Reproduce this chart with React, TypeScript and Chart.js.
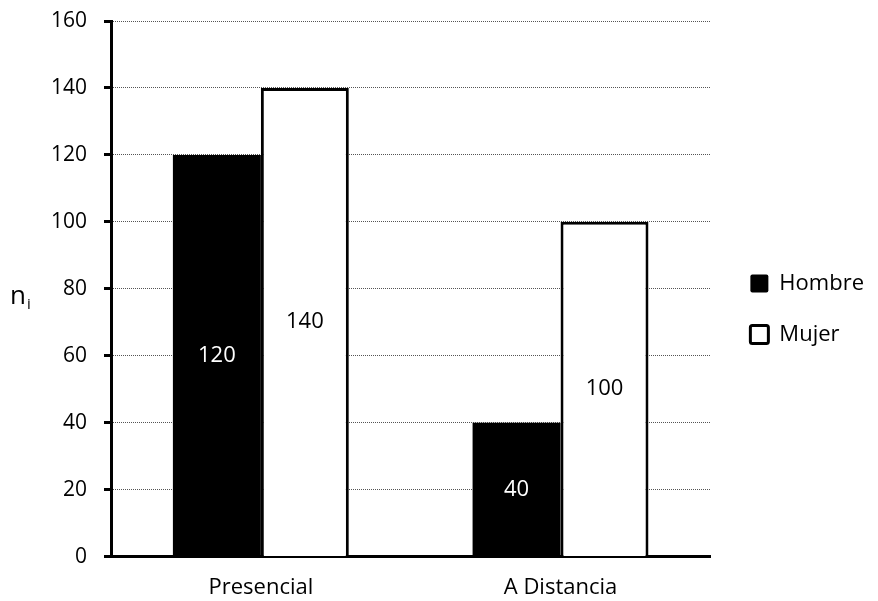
import React, { useEffect, useRef } from "react";
import { Chart, registerables } from "chart.js";

Chart.register(...registerables);

const categories = ["Presencial", "A Distancia"];
const hombre = [120, 40];
const mujer = [140, 100];
const seriesNames = ["Hombre", "Mujer"];
const yTicks = { min: 0, max: 160, step: 20 };

const FONT = "'Open Sans', sans-serif";

const valueLabels = {
  id: "valueLabels",
  afterDatasetsDraw(chart: any) {
    const ctx = chart.ctx;
    ctx.save();
    ctx.font = `22px ${FONT}`;
    ctx.textAlign = "center";
    ctx.textBaseline = "middle";
    chart.data.datasets.forEach((ds: any, di: number) => {
      const meta = chart.getDatasetMeta(di);
      meta.data.forEach((el: any, i: number) => {
        const v = ds.data[i];
        ctx.fillStyle = di === 0 ? "#ffffff" : "#000000";
        ctx.fillText(String(v), el.x, (el.y + el.base) / 2);
      });
    });
    ctx.restore();
  },
};

const yTitle = {
  id: "yTitle",
  afterDraw(chart: any) {
    const ctx = chart.ctx;
    const area = chart.chartArea;
    const cy = (area.top + area.bottom) / 2 + 15;
    ctx.save();
    ctx.fillStyle = "#000";
    ctx.textBaseline = "alphabetic";
    ctx.textAlign = "left";
    ctx.font = `26px ${FONT}`;
    const x = 10;
    ctx.fillText("n", x, cy);
    const w = ctx.measureText("n").width;
    ctx.font = `15px ${FONT}`;
    ctx.fillText("i", x + w + 1, cy + 5);
    ctx.restore();
  },
};

const legendShift = {
  id: "legendShift",
  afterLayout(chart: any) {
    const lg = chart.legend;
    if (lg) {
      const dx = chart.chartArea.right + 11 - lg.left;
      lg.left += dx;
      lg.right += dx;
      lg.top -= 11;
      lg.bottom -= 11;
    }
  },
};

export default function App() {
  const ref = useRef<HTMLCanvasElement>(null);
  useEffect(() => {
    const chart = new Chart(ref.current!, {
      type: "bar",
      data: {
        labels: categories,
        datasets: [
          {
            label: seriesNames[0],
            data: hombre,
            backgroundColor: "#000000",
            borderColor: "#000000",
            borderWidth: 0,
            categoryPercentage: 0.587,
            barPercentage: 1,
          },
          {
            label: seriesNames[1],
            data: mujer,
            backgroundColor: "#ffffff",
            borderColor: "#000000",
            borderWidth: 3,
            categoryPercentage: 0.587,
            barPercentage: 1,
          },
        ],
      },
      options: {
        animation: false,
        responsive: false,
        maintainAspectRatio: false,
        layout: { padding: { left: 34, top: 21, right: 15, bottom: -18 } },
        plugins: {
          tooltip: { enabled: false },
          legend: {
            position: "right",
            labels: {
              color: "#000",
              font: { family: FONT, size: 22 },
              boxWidth: 18,
              boxHeight: 18,
              padding: 29,
              useBorderRadius: true,
              borderRadius: 2,
            },
          },
        },
        scales: {
          x: {
            grid: { display: false, drawTicks: false },
            border: { display: true, color: "#000", width: 3 },
            ticks: {
              color: "#000",
              font: { family: FONT, size: 22 },
              padding: 18,
            },
          },
          y: {
            min: yTicks.min,
            max: yTicks.max,
            afterFit(scale: any) {
              scale.paddingTop = 0;
            },
            ticks: {
              stepSize: yTicks.step,
              color: "#000",
              font: { family: FONT, size: 21 },
              padding: 17,
            },
            grid: {
              color: "#555555",
              lineWidth: 1,
              tickColor: "#000",
              tickWidth: 3,
              tickLength: 7,
              drawTicks: true,
            },
            border: { display: true, color: "#000", width: 3, dash: [1, 1] },
          },
        },
      },
      plugins: [valueLabels, yTitle, legendShift],
    });
    return () => chart.destroy();
  }, []);
  return (
    <div style={{ position: "fixed", left: 0, top: 0, width: 878, height: 601, background: "#fff" }}>
      <canvas ref={ref} width={878} height={601} />
    </div>
  );
}
